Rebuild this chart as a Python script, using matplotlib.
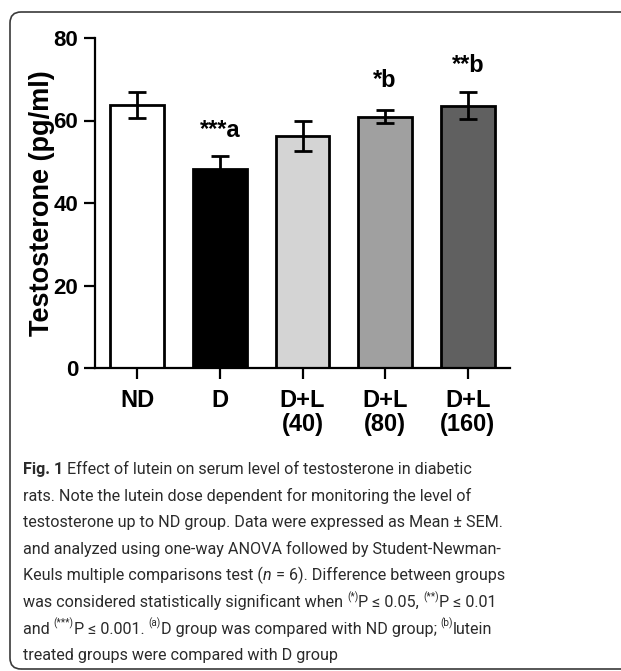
import re
import numpy as np
import matplotlib.pyplot as plt
from matplotlib.patches import FancyBboxPatch
from matplotlib.transforms import IdentityTransform
from matplotlib.font_manager import FontProperties

groups = ["ND", "D", "D+L\n(40)", "D+L\n(80)", "D+L\n(160)"]
means = [63.8, 48.2, 56.3, 60.9, 63.6]
sems = [3.1, 3.2, 3.6, 1.6, 3.3]
colors = ["#ffffff", "#000000", "#d4d4d4", "#a0a0a0", "#606060"]
marks = ["", "***a", "", "*b", "**b"]
mark_y = [0, 56.1, 0, 68.1, 71.8]

# ^{..} = superscript, |..| = italic, **..** = bold
caption = [
    "**Fig. 1** Effect of lutein on serum level of testosterone in diabetic",
    "rats. Note the lutein dose dependent for monitoring the level of",
    "testosterone up to ND group. Data were expressed as Mean \u00b1 SEM.",
    "and analyzed using one-way ANOVA followed by Student-Newman-",
    "Keuls multiple comparisons test (|n| = 6). Difference between groups",
    "was considered statistically significant when ^{(*)}P \u2264 0.05, ^{(**)}P \u2264 0.01",
    "and ^{(***)}P \u2264 0.001. ^{(a)}D group was compared with ND group; ^{(b)}lutein",
    "treated groups were compared with D group",
]
# right ends of the caption lines in the reference, px
caption_ends = [483, 502, 492, 499, 489, 477, 495, 338]

W, H = 621, 671
fig = plt.figure(figsize=(W / 100, H / 100), dpi=100)
renderer = fig.canvas.get_renderer()

# rounded frame round figure + caption
box = FancyBboxPatch((10, 2), 640, 657, boxstyle="round,pad=0,rounding_size=11",
                     transform=IdentityTransform(), fill=False,
                     edgecolor="#3a3a3a", linewidth=1.2)
fig.patches.append(box)

ax = fig.add_axes([95 / W, 1 - 368 / H, 415 / W, 330 / H])
x = np.arange(len(groups))
ax.bar(x, means, width=0.65, color=colors, edgecolor="black", linewidth=2, zorder=2)
ax.errorbar(x, means, yerr=sems, fmt="none", ecolor="black", elinewidth=2,
            capsize=6.5, capthick=2, zorder=3)
for xi, m, my in zip(x, marks, mark_y):
    if m:
        ax.text(xi, my, m, ha="center", va="baseline", fontsize=17,
                fontweight="bold", family="Liberation Sans")

ax.set_xlim(-0.51, 4.51)
ax.set_ylim(0, 80)
ax.set_yticks([0, 20, 40, 60, 80])
ax.set_xticks(x)
ax.set_xticklabels(groups, linespacing=1.05)
for s in ["top", "right"]:
    ax.spines[s].set_visible(False)
for s in ["left", "bottom"]:
    ax.spines[s].set_linewidth(1.6)
ax.tick_params(axis="both", width=1.6, length=8, pad=4)
ax.tick_params(axis="x", pad=7)
for lab in ax.get_yticklabels():
    lab.set_fontweight("bold")
    lab.set_family("Liberation Sans")
    lab.set_fontsize(16)
for lab in ax.get_xticklabels():
    lab.set_fontweight("bold")
    lab.set_family("Liberation Sans")
    lab.set_fontsize(17)
ax.set_ylabel("Testosterone (pg/ml)", fontsize=19.5, fontweight="bold",
              family="Liberation Sans", labelpad=-1)

# caption, drawn piece by piece
fam = ["Roboto", "DejaVu Sans"]
ink = "#2b2b2b"


def pieces(line):
    out = []
    for p in re.split(r"(\^\{[^}]*\}|\|[^|]*\||\*\*[^*]+\*\*)", line):
        if not p:
            continue
        if p.startswith("^{"):
            out.append((p[2:-1], "sup"))
        elif p.startswith("**"):
            out.append((p[2:-2], "bold"))
        elif p.startswith("|"):
            out.append((p[1:-1], "ital"))
        else:
            out.append((p, "plain"))
    return out


def props(kind, fs):
    if kind == "sup":
        return FontProperties(family=fam, size=fs * 0.62)
    if kind == "bold":
        return FontProperties(family=fam, size=fs, weight="bold")
    if kind == "ital":
        return FontProperties(family=fam, size=fs, style="italic")
    return FontProperties(family=fam, size=fs)


def seg_width(txt, fp):
    w1 = renderer.get_text_width_height_descent("|" + txt + "|", fp, ismath=False)[0]
    w0 = renderer.get_text_width_height_descent("||", fp, ismath=False)[0]
    return w1 - w0


def line_width(line, fs):
    return sum(seg_width(t, props(k, fs)) for t, k in pieces(line))


# one font size so the caption block is as wide as in the reference
x_cap = 23.0
fs = 10 * sum(e - x_cap for e in caption_ends) / sum(line_width(c, 10) for c in caption)
y0 = 474
for i, line in enumerate(caption):
    xp = x_cap
    yb = y0 + i * 26.6
    for txt, kind in pieces(line):
        fp = props(kind, fs)
        dy = fs * 0.42 * 100 / 72 if kind == "sup" else 0
        fig.text(xp / W, 1 - (yb - dy) / H, txt, fontproperties=fp,
                 va="baseline", ha="left", color=ink)
        xp += seg_width(txt, fp)

fig.savefig("out.png", dpi=100)
